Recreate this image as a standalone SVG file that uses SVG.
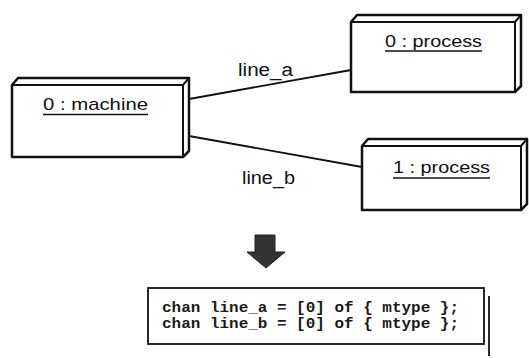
<svg xmlns="http://www.w3.org/2000/svg" width="529" height="358" viewBox="0 0 529 358">
  <style>
    .box { fill: #fff; stroke: #111; stroke-width: 2.5; stroke-linejoin: round; }
    .edge { fill: none; stroke: #111; stroke-width: 2; }
    .conn { fill: none; stroke: #111; stroke-width: 1.8; }
    .name { font-family: "Liberation Sans", Arial, sans-serif; font-size: 17px; fill: #111; }
    .ul { stroke: #111; stroke-width: 1.6; }
    .lbl { font-family: "Liberation Sans", Arial, sans-serif; font-size: 18px; fill: #111; }
    .code { font-family: "Liberation Mono", "Courier New", monospace; font-size: 14px; font-weight: bold; fill: #1a1a1a; }
  </style>

  <rect width="529" height="358" fill="#fff"/>

  <!-- connectors -->
  <g id="connectors">
    <line class="conn" x1="189" y1="99" x2="351" y2="70"/>
    <line class="conn" x1="189" y1="136" x2="362" y2="167"/>
    <text class="lbl" x="238" y="76" textLength="55" lengthAdjust="spacingAndGlyphs">line_a</text>
    <text class="lbl" x="242" y="184" textLength="53" lengthAdjust="spacingAndGlyphs">line_b</text>
  </g>

  <!-- node: 0 : machine -->
  <g id="machine0">
    <path class="box" d="M12 85 L18 78 L189 78 L189 151 L183 157 L12 157 Z"/>
    <path class="edge" d="M12 85 L183 85 L189 78 M183 85 L183 157"/>
    <text class="name" x="43" y="110" textLength="105" lengthAdjust="spacingAndGlyphs">0 : machine</text>
    <line class="ul" x1="43" y1="114.5" x2="148" y2="114.5"/>
  </g>

  <!-- node: 0 : process -->
  <g id="process0">
    <path class="box" d="M351 22 L357 15 L521 15 L521 86 L515 92 L351 92 Z"/>
    <path class="edge" d="M351 22 L515 22 L521 15 M515 22 L515 92"/>
    <text class="name" x="385" y="47" textLength="97" lengthAdjust="spacingAndGlyphs">0 : process</text>
    <line class="ul" x1="385" y1="51" x2="482" y2="51"/>
  </g>

  <!-- node: 1 : process -->
  <g id="process1">
    <path class="box" d="M362 146 L368 139 L527 139 L527 204 L521 210 L362 210 Z"/>
    <path class="edge" d="M362 146 L521 146 L527 139 M521 146 L521 210"/>
    <text class="name" x="393" y="173" textLength="97" lengthAdjust="spacingAndGlyphs">1 : process</text>
    <line class="ul" x1="393" y1="178" x2="490" y2="178"/>
  </g>

  <!-- transformation arrow -->
  <g id="arrow">
    <path d="M255 235 L275 235 L275 252 L285 252 L266 268 L247 252 L255 252 Z" fill="#333" stroke="#222" stroke-width="1"/>
  </g>

  <!-- generated channel declarations -->
  <g id="code">
    <rect x="148" y="288" width="336" height="56" fill="#fff" stroke="#111" stroke-width="1.8"/>
    <line x1="489" y1="296" x2="489" y2="356" stroke="#111" stroke-width="1.8"/>
    <text class="code" x="162" y="312" textLength="297" lengthAdjust="spacingAndGlyphs">chan line_a = [0] of { mtype };</text>
    <text class="code" x="162" y="328" textLength="297" lengthAdjust="spacingAndGlyphs">chan line_b = [0] of { mtype };</text>
  </g>
</svg>
